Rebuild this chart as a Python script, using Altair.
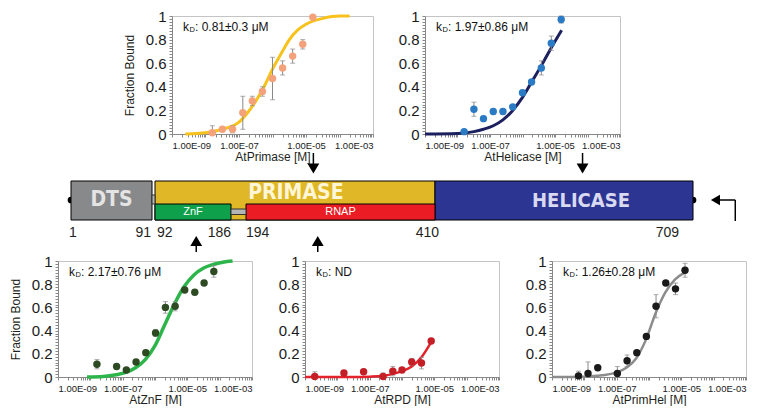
import altair as alt
import pandas as pd

FONT = "Liberation Sans"
NARROW = "Liberation Sans Narrow, DejaVu Sans Condensed, Liberation Sans"
INK = "#231f20"

# ---------------- binding curves ----------------
# AtPrimase
prim_conc = [1.6e-8, 3.2e-8, 6.4e-8, 1.3e-7, 2.5e-7, 5.0e-7, 1.0e-6, 2.0e-6, 4.0e-6, 8.0e-6, 1.6e-5]
prim_frac = [0.01, 0.04, 0.04, 0.18, 0.28, 0.36, 0.47, 0.56, 0.66, 0.76, 0.99]
prim_err = [0.06, 0.02, 0.03, 0.14, 0.04, 0.04, 0.18, 0.06, 0.06, 0.04, 0.02]
prim_fit_conc = [2.5e-9, 1e-8, 3.2e-8, 1e-7, 1.8e-7, 3.2e-7, 5.6e-7, 1e-6, 1.8e-6, 3.2e-6, 5.6e-6, 1e-5, 3.2e-5, 1e-4, 2e-4]
prim_fit = [0.0, 0.01, 0.04, 0.10, 0.18, 0.28, 0.40, 0.55, 0.68, 0.80, 0.88, 0.93, 0.98, 1.0, 1.0]

# AtHelicase
hel_conc = [1.6e-8, 3.2e-8, 6.3e-8, 1.26e-7, 2.5e-7, 5e-7, 1e-6, 1.9e-6, 3.8e-6, 7.7e-6, 1.55e-5]
hel_frac = [0.02, 0.21, 0.13, 0.19, 0.19, 0.23, 0.35, 0.44, 0.56, 0.77, 0.97]
hel_err = [0.01, 0.06, 0.02, 0.02, 0.02, 0.02, 0.02, 0.02, 0.06, 0.06, 0.03]
hel_fit_conc = [1e-9, 1e-8, 3.2e-8, 6.3e-8, 1.26e-7, 2.5e-7, 5e-7, 1e-6, 2e-6, 4e-6, 8e-6, 1.6e-5]
hel_fit = [0.0, 0.005, 0.02, 0.04, 0.07, 0.12, 0.20, 0.31, 0.45, 0.59, 0.74, 0.88]

# AtZnF
znf_conc = [1.6e-8, 6.5e-8, 1.3e-7, 2.6e-7, 5.2e-7, 1.04e-6, 2.1e-6, 4.2e-6, 8.3e-6, 1.7e-5, 3.3e-5, 6.6e-5]
znf_frac = [0.11, 0.09, 0.06, 0.13, 0.21, 0.38, 0.60, 0.61, 0.75, 0.73, 0.81, 0.91]
znf_err = [0.04, 0.02, 0.02, 0.02, 0.02, 0.03, 0.05, 0.04, 0.02, 0.02, 0.02, 0.05]
znf_fit_conc = [7.9e-9, 2.5e-8, 6.3e-8, 1.26e-7, 2.5e-7, 5e-7, 1e-6, 2e-6, 4e-6, 8e-6, 1.6e-5, 3.2e-5, 6.3e-5, 1.26e-4, 2.5e-4]
znf_fit = [0.0, 0.005, 0.02, 0.04, 0.08, 0.15, 0.27, 0.45, 0.63, 0.78, 0.88, 0.94, 0.97, 0.99, 1.0]

# AtRPD
rpd_conc = [2e-9, 1.6e-8, 6.5e-8, 2.6e-7, 5.2e-7, 1e-6, 2e-6, 4e-6, 8e-6]
rpd_frac = [0.005, 0.035, 0.045, 0.005, 0.05, 0.06, 0.13, 0.12, 0.31]
rpd_err = [0.04, 0.02, 0.02, 0.03, 0.04, 0.02, 0.03, 0.05, 0.01]
rpd_fit_conc = [1e-9, 3.2e-8, 1e-7, 2.5e-7, 5e-7, 1e-6, 2e-6, 4e-6, 8e-6]
rpd_fit = [0.0, 0.0, 0.003, 0.01, 0.025, 0.05, 0.09, 0.17, 0.30]

# AtPrimHel
ph_conc = [6.6e-9, 1.3e-8, 2.6e-8, 1.05e-7, 2.1e-7, 4.2e-7, 8.3e-7, 1.65e-6, 3.3e-6, 6.6e-6, 1.3e-5]
ph_frac = [0.01, 0.03, 0.08, 0.03, 0.14, 0.21, 0.35, 0.61, 0.81, 0.76, 0.92]
ph_err = [0.04, 0.10, 0.02, 0.06, 0.05, 0.02, 0.02, 0.10, 0.02, 0.05, 0.06]
ph_fit_conc = [1e-9, 1e-8, 2.5e-8, 1e-7, 2e-7, 4e-7, 8e-7, 1.6e-6, 3.2e-6, 6.3e-6, 1.26e-5]
ph_fit = [0.0, 0.003, 0.01, 0.04, 0.08, 0.16, 0.32, 0.55, 0.73, 0.84, 0.90]

# ---------------- domain map ----------------
dom_names = ["DTS", "PRIMASE", "HELICASE"]
dom_start = [1, 92, 410]
dom_end = [91, 410, 709]
sub_names = ["ZnF", "RNAP"]
sub_start = [92, 194]
sub_end = [186, 410]
linker_start = [91, 186]
linker_end = [92, 194]
residue_marks = [1, 91, 92, 186, 194, 410, 709]
termini = [1, 709]
down_arrows = [271, 581]      # AtPrimase, AtHelicase constructs
up_arrows = [143, 276]        # AtZnF, AtRPD constructs
direction_arrow = [735, 758]

X_TICKS = [float(f"{k}e{d}") for d in range(-9, -3) for k in range(1, 10)] + [1e-3]
Y_TICKS = [i / 40 for i in range(41)]
X_LABELS = ("datum.value == 1e-9 ? '1.00E-09' : datum.value == 1e-7 ? '1.00E-07' : "
            "datum.value == 1e-5 ? '1.00E-05' : datum.value == 1e-3 ? '1.00E-03' : ''")
Y_LABELS = "(round(datum.value * 40) % 8 == 0) ? format(datum.value, '~g') : ''"


def panel(conc, frac, err, fit_conc, fit, pt_color, line_color, line_w,
          xtitle, kd, ytitle, w, h):
    pts = pd.DataFrame({"c": conc, "f": frac, "e": err})
    pts["lo"] = (pts["f"] - pts["e"]).clip(lower=0)
    pts["hi"] = (pts["f"] + pts["e"]).clip(upper=1.0)
    fit_df = pd.DataFrame({"c": fit_conc, "f": fit})

    xs = alt.Scale(type="log", domain=[1e-9, 1e-3])
    ys = alt.Scale(domain=[0, 1], nice=False)
    xaxis = alt.Axis(values=X_TICKS, labelExpr=X_LABELS, labelOverlap=False,
                     labelFontSize=9.5, labelColor="#1a1a1a", tickSize=3,
                     labelPadding=3, title=xtitle, titleFontSize=12,
                     titleFontWeight="normal", titleColor=INK, titlePadding=2,
                     grid=False)
    yargs = dict(values=Y_TICKS, labelExpr=Y_LABELS, labelOverlap=False,
                 labelFontSize=15, labelColor="#1a1a1a", tickSize=3,
                 labelPadding=3, grid=False)
    if ytitle:
        yaxis = alt.Axis(title="Fraction Bound", titleFontSize=12,
                         titleFontWeight="normal", titleColor=INK,
                         titlePadding=9, **yargs)
    else:
        yaxis = alt.Axis(title=None, **yargs)

    X = alt.X("c:Q", scale=xs, axis=xaxis)
    base = alt.Chart(pts)
    line = alt.Chart(fit_df).mark_line(color=line_color, strokeWidth=line_w,
                                        interpolate="monotone").encode(
        x=X, y=alt.Y("f:Q", scale=ys, axis=yaxis))
    bars = base.mark_rule(color="#8a8a8a", strokeWidth=1).encode(
        x=X, y=alt.Y("lo:Q", scale=ys, axis=yaxis), y2="hi:Q")
    cap_lo = base.mark_tick(orient="horizontal", size=5, thickness=1,
                            color="#8a8a8a").encode(
        x=X, y=alt.Y("lo:Q", scale=ys, axis=yaxis))
    cap_hi = base.mark_tick(orient="horizontal", size=5, thickness=1,
                            color="#8a8a8a").encode(
        x=X, y=alt.Y("hi:Q", scale=ys, axis=yaxis))
    dots = base.mark_circle(size=55, opacity=1, color=pt_color).encode(
        x=X, y=alt.Y("f:Q", scale=ys, axis=yaxis))

    lab = alt.Chart(pd.DataFrame({"t": [kd]}))
    k1 = lab.mark_text(text="k", font=FONT, fontSize=12, align="left",
                       baseline="middle", color="#111").encode(
        x=alt.value(11), y=alt.value(11))
    k2 = lab.mark_text(text="D", font=FONT, fontSize=7.5, align="left",
                       baseline="middle", color="#111").encode(
        x=alt.value(17.5), y=alt.value(14))
    k3 = lab.mark_text(font=FONT, fontSize=12, align="left",
                       baseline="middle", color="#111").encode(
        x=alt.value(23), y=alt.value(11), text="t:N")

    return alt.layer(line, bars, cap_lo, cap_hi, dots, k1, k2, k3).properties(
        width=w, height=h, view=alt.ViewBackground(stroke="#c4c4c4", strokeWidth=1))


pA = panel(prim_conc, prim_frac, prim_err, prim_fit_conc, prim_fit,
           "#f4a27c", "#f7c21c", 3, "AtPrimase [M]", ": 0.81±0.3 μM", True, 201, 118)
pB = panel(hel_conc, hel_frac, hel_err, hel_fit_conc, hel_fit,
           "#2b7bc4", "#1c205e", 3, "AtHelicase [M]", ": 1.97±0.86 μM", False, 195, 118)
pC = panel(znf_conc, znf_frac, znf_err, znf_fit_conc, znf_fit,
           "#2d4a22", "#2db54c", 3.5, "AtZnF [M]", ": 2.17±0.76 μM", True, 194, 116)
pD = panel(rpd_conc, rpd_frac, rpd_err, rpd_fit_conc, rpd_fit,
           "#c41e27", "#e3222b", 2.5, "AtRPD [M]", ": ND", False, 194, 116)
pE = panel(ph_conc, ph_frac, ph_err, ph_fit_conc, ph_fit,
           "#1a1a1a", "#8c8c8c", 2.5, "AtPrimHel [M]", ": 1.26±0.28 μM", False, 194, 116)

# ---------------- domain diagram (drawn from the top-left cell, below row 1) ----------------
OFF = 121  # vertical offset of the diagram band below the first row's top
rs = alt.Scale(domain=[1, 91, 92, 186, 194, 410, 709],
               range=[13, 94, 97, 173, 188, 377, 635], zero=False, nice=False)
RX = lambda f: alt.X(f, scale=rs, axis=None)

dom_df = pd.DataFrame({"name": dom_names, "s": dom_start, "e": dom_end})
sub_df = pd.DataFrame({"name": sub_names, "s": sub_start, "e": sub_end})
link_df = pd.DataFrame({"s": linker_start, "e": linker_end})
end_df = pd.DataFrame({"r": termini})

dom_col = alt.Color("name:N", legend=None,
                    scale=alt.Scale(domain=dom_names + sub_names,
                                    range=["#88898b", "#e0b727", "#2c3591", "#0ea04a", "#ec1c24"]))

ends = alt.Chart(end_df).mark_point(shape="circle", filled=True, size=45,
                                    color="black", opacity=1).encode(
    x=RX("r:Q"), y=alt.value(OFF + 63))
boxes = alt.Chart(dom_df).mark_rect(stroke="black", strokeWidth=1).encode(
    x=RX("s:Q"), x2="e:Q", y=alt.value(OFF + 44), y2=alt.value(OFF + 83), color=dom_col)
subs = alt.Chart(sub_df).mark_rect(stroke="black", strokeWidth=1).encode(
    x=RX("s:Q"), x2="e:Q", y=alt.value(OFF + 67), y2=alt.value(OFF + 83), color=dom_col)
link1 = alt.Chart(link_df.iloc[[0]]).mark_rect(fill="#b4b4b4", stroke="#333", strokeWidth=1).encode(
    x=RX("s:Q"), x2="e:Q", y=alt.value(OFF + 58), y2=alt.value(OFF + 67))
link2 = alt.Chart(link_df.iloc[[1]]).mark_rect(fill="#b4b4b4", stroke="#333", strokeWidth=1).encode(
    x=RX("s:Q"), x2="e:Q", y=alt.value(OFF + 72), y2=alt.value(OFF + 77.5))


def name_text(df, name, size, color, y, dx=0, bold=True, font=NARROW):
    return alt.Chart(df).transform_filter(alt.datum.name == name).transform_calculate(
        mid="(datum.s + datum.e) / 2").mark_text(
        text=name, font=font, fontSize=size, fontWeight="bold" if bold else "normal",
        color=color, align="center", baseline="middle", dx=dx).encode(
        x=RX("mid:Q"), y=alt.value(OFF + y))


t_dts = name_text(dom_df, "DTS", 21, "#e4e4e4", 63)
t_pri = name_text(dom_df, "PRIMASE", 21, "#fff6d6", 56)
t_hel = name_text(dom_df, "HELICASE", 20, "#d9d9f2", 64, dx=17)
t_znf = name_text(sub_df, "ZnF", 11, "white", 75, bold=False, font=FONT)
t_rnap = name_text(sub_df, "RNAP", 11, "white", 75, bold=False, font=FONT)

res_df = pd.DataFrame({"r": residue_marks})
res_style = {1: ("left", -2), 91: ("right", -1), 92: ("left", 2), 186: ("right", 0),
             194: ("left", 0), 410: ("right", 4), 709: ("right", -14)}
res_layers = []
for r, (al, dx) in res_style.items():
    res_layers.append(alt.Chart(res_df).transform_filter(alt.datum.r == r).mark_text(
        font=FONT, fontSize=14, color=INK, align=al, dx=dx, baseline="middle").encode(
        x=RX("r:Q"), y=alt.value(OFF + 96), text="r:Q"))

down_df = pd.DataFrame({"r": down_arrows})
up_df = pd.DataFrame({"r": up_arrows})
dir_df = pd.DataFrame({"a": [direction_arrow[0]], "b": [direction_arrow[1]]})

down_shaft = alt.Chart(down_df).mark_rule(color="black", strokeWidth=1.5).encode(
    x=RX("r:Q"), y=alt.value(OFF + 16), y2=alt.value(OFF + 30))
down_head = alt.Chart(down_df).mark_point(shape="triangle-down", filled=True, size=140,
                                          color="black", opacity=1).encode(
    x=RX("r:Q"), y=alt.value(OFF + 31.5))
up_shaft = alt.Chart(up_df).mark_rule(color="black", strokeWidth=1.5).encode(
    x=RX("r:Q"), y=alt.value(OFF + 105), y2=alt.value(OFF + 115))
up_head = alt.Chart(up_df).mark_point(shape="triangle-up", filled=True, size=140,
                                      color="black", opacity=1).encode(
    x=RX("r:Q"), y=alt.value(OFF + 104))
dir_h = alt.Chart(dir_df).mark_rule(color="black", strokeWidth=1.5).encode(
    x=RX("a:Q"), x2="b:Q", y=alt.value(OFF + 63))
dir_v = alt.Chart(dir_df).mark_rule(color="black", strokeWidth=1.5).encode(
    x=RX("b:Q"), y=alt.value(OFF + 63), y2=alt.value(OFF + 84))
dir_head = alt.Chart(dir_df).mark_point(shape="triangle-left", filled=True, size=110,
                                        color="black", opacity=1, dx=3).encode(
    x=RX("a:Q"), y=alt.value(OFF + 63))

diagram = alt.layer(ends, boxes, subs, link1, link2, t_dts, t_pri, t_hel, t_znf, t_rnap,
                    *res_layers, down_shaft, down_head, up_shaft, up_head,
                    dir_h, dir_v, dir_head).properties(
    width=62, height=235, view=alt.ViewBackground(stroke=None))

row1 = alt.hconcat(diagram, pA, pB, spacing=52, bounds="flush")
row2 = alt.hconcat(pC, pD, pE, spacing=53, bounds="flush")

chart = alt.vconcat(row1, row2, spacing=0).properties(
    padding={"left": 0, "top": 0, "right": 0, "bottom": 0}
).configure(font=FONT, background="white").configure_view(stroke=None)

chart.save("out.html", embed_options={"renderer": "svg", "actions": False})
